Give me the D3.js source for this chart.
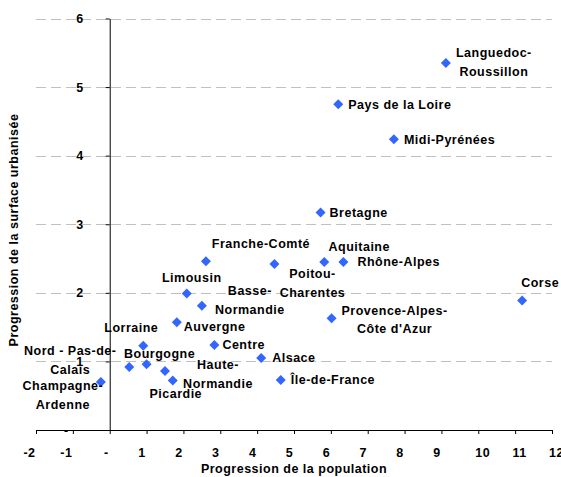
<!DOCTYPE html>
<html>
<head>
<meta charset="utf-8">
<script src="https://cdnjs.cloudflare.com/ajax/libs/d3/7.8.5/d3.min.js"></script>
<style>
  body { margin: 0; background: #fff; }
  text { font-family: "Liberation Sans", Arial, sans-serif; font-weight: bold; font-size: 12.5px; letter-spacing: 0.5px; fill: #000; }
</style>
</head>
<body>
<div id="chart"></div>
<script>
// Data: regions, population growth (x) and urban area growth (y)
var regions = ["Languedoc-Roussillon", "Pays de la Loire", "Midi-Pyrénées", "Bretagne",
  "Franche-Comté", "Aquitaine", "Rhône-Alpes", "Poitou-Charentes", "Limousin",
  "Basse-Normandie", "Auvergne", "Centre", "Provence-Alpes-Côte d'Azur", "Corse",
  "Lorraine", "Nord - Pas-de-Calais", "Bourgogne", "Haute-Normandie", "Picardie",
  "Champagne-Ardenne", "Alsace", "Île-de-France"];
var population = [9.12, 6.20, 7.71, 5.72, 2.61, 5.82, 6.34, 4.47, 2.09, 2.50, 1.82,
  2.84, 6.02, 11.19, 0.91, 0.53, 1.00, 1.50, 1.71, -0.24, 4.11, 4.64];
var surface = [5.35, 4.75, 4.24, 3.17, 2.46, 2.45, 2.45, 2.42, 1.99, 1.81, 1.57,
  1.24, 1.63, 1.89, 1.23, 0.92, 0.96, 0.86, 0.72, 0.70, 1.05, 0.73];
var xTicks = [-2, -1, 0, 1, 2, 3, 4, 5, 6, 7, 8, 9, 10, 11, 12];
var yTicks = [0, 1, 2, 3, 4, 5, 6];

// Label layout: lines, offset from point (px), anchor
var labelLayout = {
  "Languedoc-Roussillon": {lines: ["Languedoc-", "Roussillon"], dx: 48, dy: -10, a: "middle"},
  "Pays de la Loire": {lines: ["Pays de la Loire"], dx: 10, dy: 0, a: "start"},
  "Midi-Pyrénées": {lines: ["Midi-Pyrénées"], dx: 10, dy: 0, a: "start"},
  "Bretagne": {lines: ["Bretagne"], dx: 9, dy: 0, a: "start"},
  "Franche-Comté": {lines: ["Franche-Comté"], dx: 55, dy: -18, a: "middle"},
  "Aquitaine": {lines: ["Aquitaine"], dx: 35, dy: -15, a: "middle"},
  "Rhône-Alpes": {lines: ["Rhône-Alpes"], dx: 14, dy: 0, a: "start"},
  "Poitou-Charentes": {lines: ["Poitou-", "Charentes"], dx: 38, dy: 10, a: "middle"},
  "Limousin": {lines: ["Limousin"], dx: 5, dy: -16, a: "middle"},
  "Basse-Normandie": {lines: ["Basse-", "Normandie"], dx: 48, dy: -15, a: "middle"},
  "Auvergne": {lines: ["Auvergne"], dx: 7, dy: 4, a: "start"},
  "Centre": {lines: ["Centre"], dx: 8, dy: 0, a: "start"},
  "Provence-Alpes-Côte d'Azur": {lines: ["Provence-Alpes-", "Côte d'Azur"], dx: 63, dy: -8, a: "middle"},
  "Corse": {lines: ["Corse"], dx: 18, dy: -18, a: "middle"},
  "Lorraine": {lines: ["Lorraine"], dx: -12, dy: -18, a: "middle"},
  "Nord - Pas-de-Calais": {lines: ["Nord - Pas-de-", "Calais"], dx: -59, dy: -16, a: "middle"},
  "Bourgogne": {lines: ["Bourgogne"], dx: 13, dy: -11, a: "middle"},
  "Haute-Normandie": {lines: ["Haute-", "Normandie"], dx: 53, dy: -6, a: "middle"},
  "Picardie": {lines: ["Picardie"], dx: 3, dy: 13, a: "middle"},
  "Champagne-Ardenne": {lines: ["Champagne-", "Ardenne"], dx: -38, dy: 4, a: "middle"},
  "Alsace": {lines: ["Alsace"], dx: 11, dy: 0, a: "start"},
  "Île-de-France": {lines: ["Île-de-France"], dx: 10, dy: 0, a: "start"}
};

var width = 561, height = 477;

var svg = d3.select("#chart")
  .append("svg")
    .attr("width", width)
    .attr("height", height);

var x = d3.scaleLinear().domain([-2, 12]).range([36, 552]);
var y = d3.scaleLinear().domain([0, 6]).range([430, 18.5]);

// Dashed gridlines
svg.append("g")
  .selectAll("line")
  .data(yTicks.filter(function(d) { return d > 0; }))
  .enter()
  .append("line")
    .attr("x1", x(-2))
    .attr("x2", x(12))
    .attr("y1", function(d) { return Math.round(y(d)) + 0.5; })
    .attr("y2", function(d) { return Math.round(y(d)) + 0.5; })
    .style("stroke", "#c0c0c0")
    .style("stroke-dasharray", "10,5");

// X axis
var xAxis = svg.append("g")
  .attr("transform", "translate(0," + y(0) + ")")
  .call(d3.axisBottom(x).tickValues(xTicks).tickSize(4).tickSizeOuter(0).tickPadding(14.5)
    .tickFormat(function(d) { return d === 0 ? "-" : d; }));
xAxis.selectAll("text")
  .attr("dx", function(d) {
    if (d === 0) return -4;
    if (d < 0) return -7;
    return d >= 10 ? 4 : -5;
  });

// Y axis
var yAxis = svg.append("g")
  .attr("transform", "translate(" + x(0) + ",0)")
  .call(d3.axisLeft(y).tickValues(yTicks).tickSize(4).tickSizeOuter(0).tickPadding(22)
    .tickFormat(function(d) { return d === 0 ? "-" : d; }));
yAxis.selectAll("text")
  .attr("dx", function(d) { return d === 0 ? -15 : 0; });

svg.selectAll(".domain, .tick line").style("stroke", "#000");
svg.selectAll(".tick text")
  .style("font-size", "12.5px")
  .style("font-weight", "bold")
  .style("font-family", "'Liberation Sans', Arial, sans-serif")
  .style("fill", "#000");

// Points
var data = regions.map(function(r, i) {
  return {name: r, x: population[i], y: surface[i]};
});

var diamond = d3.symbol().type(d3.symbolSquare).size(50);

svg.append("g")
  .selectAll("path")
  .data(data)
  .enter()
  .append("path")
    .attr("d", diamond)
    .attr("transform", function(d) {
      return "translate(" + x(d.x) + "," + y(d.y) + ") rotate(45)";
    })
    .style("fill", "#3366ff");

// Data labels
var labels = svg.append("g")
  .selectAll("text")
  .data(data)
  .enter()
  .append("text")
    .attr("text-anchor", function(d) { return labelLayout[d.name].a; })
    .attr("transform", function(d) {
      var l = labelLayout[d.name];
      return "translate(" + (x(d.x) + l.dx) + "," + (y(d.y) + l.dy) + ")";
    });

labels.selectAll("tspan")
  .data(function(d) { return labelLayout[d.name].lines; })
  .enter()
  .append("tspan")
    .attr("x", 0)
    .attr("y", function(d, i) { return i * 18.7; })
    .attr("dy", "0.35em")
    .text(function(d) { return d; });

// Axis titles
svg.append("text")
  .attr("x", 294)
  .attr("y", 472.5)
  .attr("text-anchor", "middle")
  .text("Progression de la population");

svg.append("text")
  .attr("transform", "translate(18,230) rotate(-90)")
  .attr("text-anchor", "middle")
  .text("Progression de la surface urbanisée");
</script>
</body>
</html>
